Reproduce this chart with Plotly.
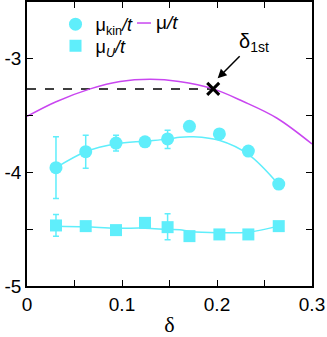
import plotly.graph_objects as go

# ---- data ----
delta_pts = [0.0305, 0.0618, 0.0937, 0.1242, 0.148, 0.171, 0.2025, 0.233, 0.265]
mu_kin = [-3.958, -3.818, -3.742, -3.731, -3.705, -3.594, -3.661, -3.812, -4.103]
mu_kin_err_up = [0.271, 0.146, 0.070, 0.0, 0.076, 0.0, 0.0, 0.0, 0.0]
mu_kin_err_dn = [0.271, 0.145, 0.070, 0.0, 0.084, 0.0, 0.0, 0.0, 0.0]

mu_U = [-4.467, -4.473, -4.508, -4.444, -4.482, -4.561, -4.546, -4.546, -4.473]
mu_U_err_up = [0.096, 0.0, 0.0, 0.0, 0.117, 0.0, 0.0, 0.0, 0.0]
mu_U_err_dn = [0.096, 0.0, 0.0, 0.0, 0.110, 0.0, 0.0, 0.0, 0.0]

# fit curves
fit_kin_x = [0.0305, 0.0618, 0.0937, 0.1242, 0.148, 0.161, 0.175, 0.203, 0.233, 0.2645]
fit_kin_y = [-3.958, -3.818, -3.748, -3.725, -3.707, -3.690, -3.687, -3.719, -3.841, -4.103]

fit_U_x = [0.0305, 0.0618, 0.0937, 0.1242, 0.148, 0.161, 0.1716, 0.202, 0.233, 0.2645]
fit_U_y = [-4.473, -4.479, -4.491, -4.491, -4.502, -4.505, -4.52, -4.531, -4.526, -4.473]

mu_x = [0.0, 0.03, 0.0665, 0.098, 0.13, 0.16, 0.196, 0.2277, 0.2628, 0.30]
mu_y = [-3.507, -3.38, -3.265, -3.20, -3.181, -3.20, -3.265, -3.376, -3.521, -3.75]

delta_1st = 0.196
mu_1st = -3.265

CYAN = "#5FEEFB"
PURPLE = "#C946F0"
FONT = "Liberation Sans, Arial, Helvetica, sans-serif"

fig = go.Figure()

fig.add_trace(go.Scatter(x=fit_kin_x, y=fit_kin_y, mode="lines", line=dict(color=CYAN, width=1.5, shape="spline"),
                         showlegend=False, hoverinfo="skip"))
fig.add_trace(go.Scatter(x=fit_U_x, y=fit_U_y, mode="lines", line=dict(color=CYAN, width=1.5, shape="spline"),
                         showlegend=False, hoverinfo="skip"))
fig.add_trace(go.Scatter(x=[0, delta_1st], y=[mu_1st, mu_1st], mode="lines",
                         line=dict(color="black", width=1.5, dash="dash"), showlegend=False))

fig.add_trace(go.Scatter(x=delta_pts, y=mu_kin, mode="markers", name="μ<sub>kin</sub><i>/t</i>",
                         marker=dict(symbol="circle", size=13, color=CYAN),
                         error_y=dict(type="data", symmetric=False, array=mu_kin_err_up, arrayminus=mu_kin_err_dn,
                                      color=CYAN, thickness=1.5, width=3),
                         legend="legend"))
fig.add_trace(go.Scatter(x=mu_x, y=mu_y, mode="lines", name="μ/t",
                         line=dict(color=PURPLE, width=1.5, shape="spline"), showlegend=False))
fig.add_trace(go.Scatter(x=delta_pts, y=mu_U, mode="markers", name="μ<sub><i>U</i></sub><i>/t</i>",
                         marker=dict(symbol="square", size=12, color=CYAN),
                         error_y=dict(type="data", symmetric=False, array=mu_U_err_up, arrayminus=mu_U_err_dn,
                                      color=CYAN, thickness=1.5, width=3),
                         legend="legend2"))
fig.add_trace(go.Scatter(x=[delta_1st], y=[mu_1st], mode="markers",
                         marker=dict(symbol="x-thin", size=12, line=dict(color="black", width=3)),
                         showlegend=False))

fig.add_annotation(x=0.2007, y=-3.172, xref="x", yref="y", text="δ<sub>1st</sub>",
                   showarrow=True, arrowhead=2, arrowsize=1.2, arrowwidth=1.5, arrowcolor="black",
                   ax=36, ay=-36, font=dict(family=FONT, size=20, color="black"))

# legend entry for the μ/t line (short line sample + label)
fig.add_shape(type="line", xref="paper", yref="paper", x0=0.386, x1=0.435, y0=0.926, y1=0.926,
              line=dict(color=PURPLE, width=1.5))
fig.add_annotation(xref="paper", yref="paper", x=0.447, y=0.928, xanchor="left", yanchor="middle",
                   text="μ<i>/t</i>", showarrow=False, font=dict(family=FONT, size=19, color="black"))

axis_common = dict(showline=True, linecolor="black", linewidth=1.5, mirror="allticks",
                   ticks="inside", ticklen=6, tickwidth=1.2, tickcolor="black",
                   showgrid=False, zeroline=False,
                   tickfont=dict(family=FONT, size=19, color="black"))

fig.update_xaxes(range=[0, 0.3], tickvals=[0, 0.1, 0.2, 0.3], ticktext=["0", "0.1", "0.2", "0.3"],
                 minor=dict(tickvals=[0.05, 0.15, 0.25], ticks="inside", ticklen=6, tickcolor="black"),
                 title=dict(text="δ", font=dict(family="Liberation Serif, Times New Roman, serif", size=22, color="black"),
                            standoff=6),
                 **axis_common)
fig.update_yaxes(range=[-5, -2.5], tickvals=[-5, -4, -3], ticktext=["-5", "-4", "-3"],
                 minor=dict(tickvals=[-4.5, -3.5], ticks="inside", ticklen=6, tickcolor="black"),
                 **axis_common)

fig.update_layout(
    width=327, height=337,
    margin=dict(l=27, r=15, t=0, b=51),
    paper_bgcolor="white", plot_bgcolor="white",
    font=dict(family=FONT, size=19, color="black"),
    legend=dict(orientation="h", x=0.1, y=0.986, xanchor="left", yanchor="top",
                bgcolor="rgba(0,0,0,0)", font=dict(family=FONT, size=18), itemwidth=30),
    legend2=dict(orientation="h", x=0.1, y=0.91, xanchor="left", yanchor="top",
                 bgcolor="rgba(0,0,0,0)", font=dict(family=FONT, size=18), itemwidth=30),
)

fig.write_html("out.html", config={"displayModeBar": False},
               post_script="document.body.style.margin='0';document.body.style.overflow='hidden';")
